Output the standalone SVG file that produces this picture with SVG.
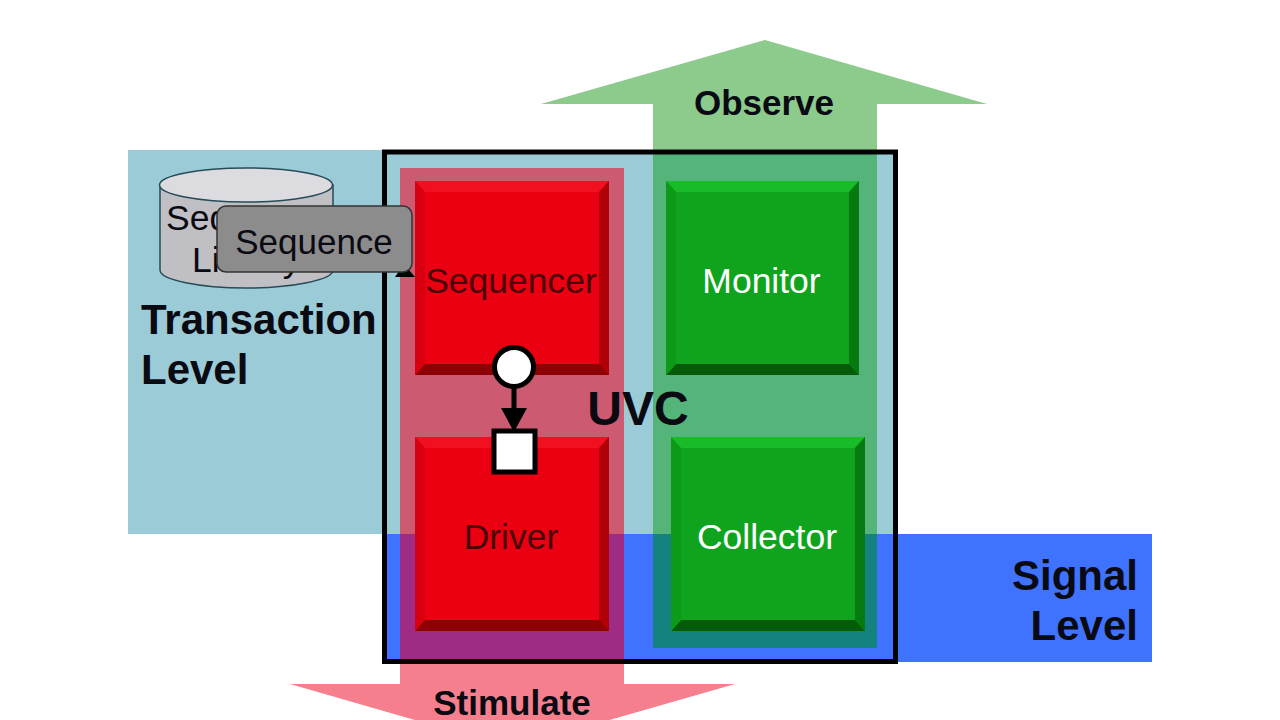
<svg xmlns="http://www.w3.org/2000/svg" width="1280" height="720" viewBox="0 0 1280 720">
<style>
text{font-family:"Liberation Sans",Arial,sans-serif;fill:#0a0a12}
.b{font-weight:bold}
.m{text-anchor:middle}
.lbl{font-size:35.500px}
.dark{fill:#4a0008}
.hd{font-size:35px;font-weight:bold}
.big{font-size:42px;font-weight:bold}
.pin{fill:#fff;stroke:#000;stroke-width:5}
</style>
<rect width="1280" height="720" fill="#fff"/>
<g id="levels">
<rect x="128" y="150" width="770" height="384" fill="#9ccbd8"/>
<rect x="384" y="534" width="768" height="128" fill="#3f72ff"/>
</g>
<g id="observe">
<polygon points="765,40 987,104 877,104 877,150 653,150 653,104 541,104" fill="#8ccb8c"/>
<rect x="653" y="150" width="224" height="384" fill="#55b47a"/>
<rect x="653" y="534" width="224" height="114" fill="#14837f"/>
<text class="hd m" x="764" y="115">Observe</text>
</g>
<g id="stimulate">
<polygon points="400,662 624,662 624,684 735,684 512,748 290,684 400,684" fill="#f57f8c"/>
<rect x="400" y="168" width="224" height="366" fill="#cc5a70"/>
<rect x="400" y="534" width="224" height="128" fill="#9e2c84"/>
<text class="hd m" x="512" y="715">Stimulate</text>
</g>
<g id="uvc">
<rect x="384.500" y="152" width="511" height="509.500" fill="none" stroke="#000" stroke-width="5"/>
<text class="b m" x="638" y="425" style="font-size:48px">UVC</text>
</g>
<g id="sequencer">
<rect x="415" y="181" width="194" height="194" fill="#ea0010"/>
<polygon points="415,181 609,181 599,192 425,192" fill="#f01020"/>
<polygon points="609,181 609,375 599,364 599,192" fill="#b00008"/>
<polygon points="415,375 609,375 599,364 425,364" fill="#8c0006"/>
<polygon points="415,181 425,192 425,364 415,375" fill="#d80010"/>
<text class="lbl m dark" x="511" y="293">Sequencer</text>
</g>
<g id="driver">
<rect x="415" y="437" width="194" height="194" fill="#ea0010"/>
<polygon points="415,437 609,437 599,448 425,448" fill="#f01020"/>
<polygon points="609,437 609,631 599,620 599,448" fill="#b00008"/>
<polygon points="415,631 609,631 599,620 425,620" fill="#8c0006"/>
<polygon points="415,437 425,448 425,620 415,631" fill="#d80010"/>
<text class="lbl m dark" x="511" y="549">Driver</text>
</g>
<g id="monitor">
<rect x="666" y="181" width="193" height="194" fill="#10a41e"/>
<polygon points="666,181 859,181 849,192 676,192" fill="#18bc28"/>
<polygon points="859,181 859,375 849,364 849,192" fill="#067a10"/>
<polygon points="666,375 859,375 849,364 676,364" fill="#045c0a"/>
<polygon points="666,181 676,192 676,364 666,375" fill="#0c9a18"/>
<text class="lbl m" x="761.500" y="293" style="fill:#fff">Monitor</text>
</g>
<g id="collector">
<rect x="671" y="437" width="194" height="194" fill="#10a41e"/>
<polygon points="671,437 865,437 855,448 681,448" fill="#18bc28"/>
<polygon points="865,437 865,631 855,620 855,448" fill="#067a10"/>
<polygon points="671,631 865,631 855,620 681,620" fill="#045c0a"/>
<polygon points="671,437 681,448 681,620 671,631" fill="#0c9a18"/>
<text class="lbl m" x="767" y="549" style="fill:#fff">Collector</text>
</g>
<g id="connectors">
<line x1="514" y1="385" x2="514" y2="412" stroke="#000" stroke-width="5"/>
<polygon points="501,408 527,408 514,432" fill="#000"/>
<polygon points="404,264 415,277 395,277" fill="#000"/>
</g>
<g id="seq-export"><circle class="pin" cx="514" cy="367" r="19.500"/></g>
<g id="seq-import"><rect class="pin" x="494" y="431" width="41" height="41"/></g>
<g id="sequence-library">
<path d="M160,185 V270 C160,280 200,288 246,288 C292,288 333,280 333,270 V185 Z" fill="#c0c0c4" stroke="#274b58" stroke-width="1.500"/>
<ellipse cx="246" cy="185" rx="86.500" ry="17" fill="#dcdce0" stroke="#274b58" stroke-width="1.500"/>
<text class="lbl" x="166" y="230">Sequence</text>
<text class="lbl" x="192" y="272">Library</text>
</g>
<g id="sequence">
<rect x="217" y="206" width="195" height="66" rx="9" fill="#8c8c8c" stroke="#333" stroke-width="1.500"/>
<text class="lbl m" x="314" y="254" style="font-size:35px">Sequence</text>
</g>
<g id="level-labels">
<text class="big" x="141" y="334">Transaction</text>
<text class="big" x="141" y="384">Level</text>
<text class="big" x="1138" y="590" text-anchor="end">Signal</text>
<text class="big" x="1138" y="640" text-anchor="end">Level</text>
</g>
</svg>
